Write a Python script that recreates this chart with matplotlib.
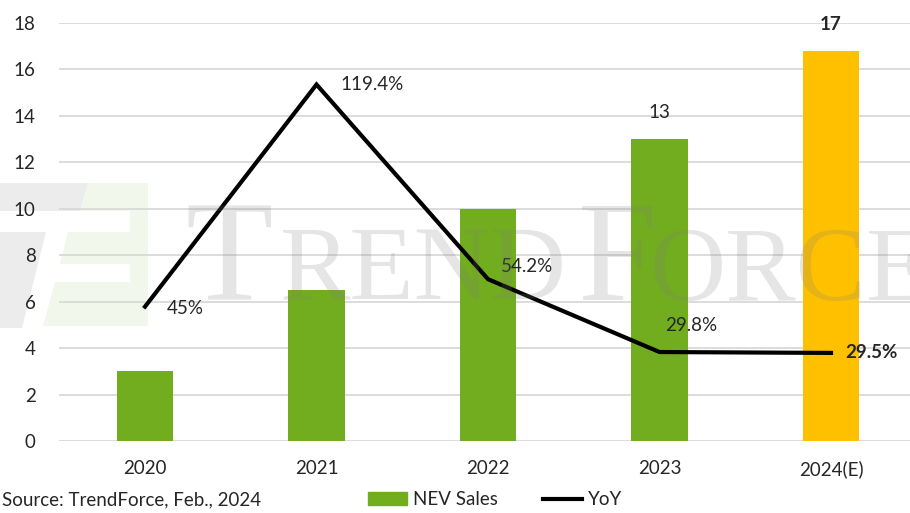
import matplotlib
matplotlib.use("Agg")
import matplotlib.pyplot as plt
from matplotlib.patches import Polygon, Patch
from matplotlib.lines import Line2D

plt.rcParams.update({
    "font.family": ["Lato", "DejaVu Sans"],
    "font.size": 13.5,
    "text.color": "#262626",
    "xtick.color": "#262626",
    "ytick.color": "#262626",
})

years = ["2020", "2021", "2022", "2023", "2024(E)"]
sales = [3.0, 6.5, 10.0, 13.0, 16.8]
sales_labels = ["", "", "", "13", "17"]
yoy = [45.0, 119.4, 54.2, 29.8, 29.5]
yoy_labels = ["45%", "119.4%", "54.2%", "29.8%", "29.5%"]
bar_colors = ["#72ad1f", "#72ad1f", "#72ad1f", "#72ad1f", "#ffc000"]

W, H = 910, 513
fig = plt.figure(figsize=(W / 100, H / 100), dpi=100)
ax = fig.add_axes([59.25 / W, 72 / H, 857.5 / W, 418 / H])

x = list(range(len(years)))
ax.bar(x, sales, width=0.33, color=bar_colors, zorder=2)
ax.set_xlim(-0.5, 4.5)
ax.set_ylim(0, 18)
ax.set_yticks(range(0, 19, 2))
ax.set_xticks(x)
ax.set_xticklabels(years)
ax.tick_params(length=0)
ax.tick_params(axis="y", pad=17)
ax.tick_params(axis="x", pad=14)
for s in ax.spines.values():
    s.set_visible(False)
ax.yaxis.grid(True, color="#d9d9d9", lw=1.3, zorder=1)
ax.set_axisbelow(True)

# bar value labels (only the last two in the original)
for i, lab in enumerate(sales_labels):
    if lab:
        ax.annotate(lab, (i, sales[i]), xytext=(0, 19), textcoords="offset points",
                    ha="center", va="center",
                    fontweight="bold" if i == len(sales) - 1 else "normal")

# watermark: logo blocks (behind tick labels) + "TRENDFORCE" small caps
def px(pts):
    return [(a / W, 1 - b / H) for a, b in pts]

gray, green = "#ececec", "#f1f7ea"
logo = [
    (gray, [(0, 183), (88, 183), (80, 211), (0, 211)]),
    (gray, [(0, 232), (46, 232), (22, 328), (0, 328)]),
    (green, [(88, 183), (148, 183), (148, 211), (80, 211)]),
    (green, [(130, 183), (148, 183), (148, 326), (130, 326)]),
    (green, [(68, 232), (148, 232), (148, 264), (60, 264)]),
    (green, [(55, 282), (148, 282), (148, 326), (43, 326)]),
]
for c, pts in logo:
    ax.add_patch(Polygon(px(pts), closed=True, color=c, lw=0, clip_on=False,
                         transform=fig.transFigure, zorder=0.5))

wm = dict(family="Liberation Serif", color="#7f7f7f", alpha=0.2, va="baseline",
          transform=fig.transFigure, zorder=3)
fig.text(185 / W, 1 - 300 / H, "T", fontsize=103, **wm)
fig.text(280 / W, 1 - 300 / H, "REND", fontsize=76, **wm)
fig.text(578 / W, 1 - 300 / H, "F", fontsize=103, **wm)
fig.text(650 / W, 1 - 300 / H, "ORCE", fontsize=76, **wm)

# YoY line on hidden secondary scale
ax2 = ax.twinx()
ax2.set_ylim(0, 140)
ax2.axis("off")
ax2.plot(x, yoy, color="black", lw=3, solid_joinstyle="miter", zorder=4)
offsets = [(16, -1), (17, 0), (9, 9), (4, 19), (10, 0)]
for i, lab in enumerate(yoy_labels):
    ax2.annotate(lab, (i, yoy[i]), xytext=offsets[i], textcoords="offset points",
                 ha="left", va="center",
                 fontweight="bold" if i == len(yoy) - 1 else "normal")

fig.text(2 / W, 0.025, "Source: TrendForce, Feb., 2024", va="center", ha="left")
handles = [Patch(color="#72ad1f"), Line2D([], [], color="black", lw=3)]
fig.legend(handles, ["NEV Sales", "YoY"], loc="center", bbox_to_anchor=(0.544, 0.026),
           ncol=2, frameon=False, handlelength=2.1, handleheight=0.7,
           handletextpad=0.3, columnspacing=2.4, fontsize=13.5)

fig.savefig("out.png", dpi=100)
